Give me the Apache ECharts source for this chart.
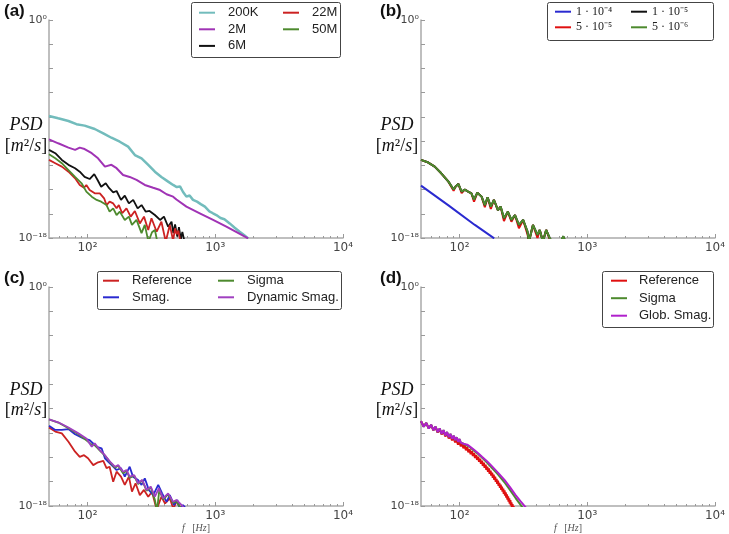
<!DOCTYPE html>
<html><head><meta charset="utf-8">
<script src="https://cdn.jsdelivr.net/npm/echarts@6/dist/echarts.min.js"></script>
<style>html,body{margin:0;padding:0;background:#fff}#c{width:729px;height:534px}</style>
</head><body><div id="c"></div><script>
// ---------- Panel (a) : mesh resolution ----------
const a_200K = [[50,1.2e-8],[59,7.6e-9],[71,4.6e-9],[82,2.5e-9],[95,1.9e-9],[114,1.0e-9],[133,4.4e-10],[154,1.9e-10],[179,8.9e-11],[208,3.5e-11],[235,7.1e-12],[265,3.8e-12],[299,1.1e-12],[337,3.0e-13],[379,1.1e-13],[428,4.5e-14],[468,2.4e-14],[500,1.6e-14],[530,1.8e-14],[560,6.3e-15],[595,2.6e-15],[630,3.2e-15],[670,1.4e-15],[720,1.0e-15],[770,6.3e-16],[830,3.9e-16],[900,1.6e-16],[960,1.1e-16],[1020,7.9e-17],[1100,4.5e-17],[1180,3.5e-17],[1298,1.6e-17],[1420,7.1e-18],[1553,3.3e-18],[1680,1.8e-18],[1810,9.3e-19]];
const a_2M = [[50,1.4e-10],[59,6.6e-11],[71,2.9e-11],[80,1.9e-11],[87,2.9e-11],[95,2.2e-11],[108,1.0e-11],[121,3.8e-12],[137,7.8e-13],[154,1.1e-12],[169,5.8e-13],[190,1.6e-13],[214,1.1e-13],[242,6.2e-14],[281,2.4e-14],[327,1.4e-14],[370,9.1e-15],[416,4.1e-15],[468,2.6e-15],[497,1.5e-15],[595,3.9e-16],[757,1.1e-16],[962,3.1e-17],[1222,8.7e-18],[1810,9.3e-19]];
const a_6M = [[50,1.9e-11],[56,1.0e-11],[63,2.8e-12],[71,1.1e-12],[80,5.8e-13],[87,3.0e-13],[95,1.1e-13],[104,7.4e-14],[113,1.9e-13],[120,6.2e-14],[128,1.7e-14],[139,3.3e-14],[148,1.3e-14],[159,5.9e-15],[169,7.6e-15],[183,1.4e-15],[196,3.1e-15],[211,7.2e-16],[228,1.4e-15],[247,2.8e-16],[265,5.2e-16],[286,1.5e-16],[306,1.7e-16],[337,7.9e-17],[370,3.1e-17],[397,5.8e-17],[428,8.5e-18],[455,2.2e-17],[470,2.5e-18],[485,1.3e-17],[505,1.3e-18],[520,7.9e-18],[538,8e-19],[553,3.2e-18],[575,5e-19]];
const a_22M = [[50,2.8e-12],[56,1.5e-12],[63,7.8e-13],[71,3.0e-13],[80,8.5e-14],[87,2.4e-14],[94,1.4e-14],[98,2.4e-14],[104,9.1e-15],[114,4.9e-15],[125,4.9e-15],[135,1.9e-15],[141,5.2e-16],[149,1.0e-15],[159,7.2e-16],[169,2.8e-16],[176,5.2e-16],[187,1.1e-16],[202,2.8e-16],[218,5.8e-17],[235,1.7e-16],[257,1.6e-17],[277,5.8e-17],[299,4.6e-18],[317,4.3e-17],[348,3.3e-18],[379,2.2e-17],[410,5e-19],[441,1.2e-17],[468,6e-19],[485,6.3e-18],[500,2.0e-18],[515,4.0e-18],[535,4e-19]];
const a_50M = [[50,8.1e-12],[56,3.8e-12],[63,1.5e-12],[71,4.1e-13],[80,1.1e-13],[90,3.3e-14],[98,6.8e-15],[108,2.6e-15],[118,1.4e-15],[128,1.0e-15],[141,5.2e-16],[149,1.5e-16],[159,2.8e-16],[169,7.9e-17],[179,1.5e-16],[196,3.1e-17],[211,5.8e-17],[223,1.2e-17],[242,3.1e-17],[265,2.5e-18],[281,1.2e-17],[300,5e-19],[320,3.0e-18],[337,4.6e-18],[352,5e-19]];

// ---------- Panel (b) : Smagorinsky constant ----------
const b_1e4 = [[50,2.1e-14],[82,4.9e-16],[132,1.2e-17],[187,9.3e-19]];
const b_5e5 = [[50,2.8e-12],[57,1.7e-12],[64,7.8e-13],[72,2.2e-13],[82,4.5e-14],[90,8.0e-15],[93,1.7e-14],[98,2.9e-14],[104,5.0e-15],[110,1.0e-14],[117,6.8e-15],[124,4.9e-15],[130,1.0e-15],[138,5.5e-15],[149,2.6e-15],[158,3.5e-16],[166,2.3e-15],[176,2.5e-16],[186,1.4e-15],[200,2.0e-16],[210,3.9e-16],[223,2.5e-17],[239,1.5e-16],[255,2.2e-17],[272,7.9e-17],[292,6.3e-18],[315,3.1e-17],[341,2.0e-18],[350,5e-19],[376,1.2e-17],[408,1.0e-18],[425,4.6e-18],[450,5e-19],[477,4.6e-18],[508,8e-19],[530,5e-19]];
const b_1e5 = [[50,2.8e-12],[57,1.7e-12],[64,7.8e-13],[72,2.2e-13],[82,4.5e-14],[90,1.0e-14],[93,1.7e-14],[98,2.9e-14],[104,6.8e-15],[110,1.0e-14],[117,6.8e-15],[124,4.9e-15],[130,1.5e-15],[138,5.5e-15],[149,2.6e-15],[158,5.2e-16],[166,2.3e-15],[176,3.9e-16],[186,1.4e-15],[200,2.0e-16],[210,3.9e-16],[223,4.3e-17],[239,1.5e-16],[255,3.1e-17],[272,7.9e-17],[292,1.2e-17],[315,3.1e-17],[341,3.3e-18],[350,5e-19],[376,1.2e-17],[408,1.8e-18],[425,4.6e-18],[450,5e-19],[477,4.6e-18],[508,1.0e-18],[530,5e-19],[620,5e-19],[650,1.4e-18],[680,4e-19]];
const b_5e6 = [[50,2.8e-12],[57,1.7e-12],[64,7.8e-13],[72,2.2e-13],[82,4.5e-14],[90,1.0e-14],[93,1.7e-14],[98,2.9e-14],[104,6.8e-15],[110,1.0e-14],[117,6.8e-15],[124,4.9e-15],[130,1.5e-15],[138,5.5e-15],[149,2.6e-15],[158,5.2e-16],[166,2.3e-15],[176,3.9e-16],[186,1.4e-15],[200,2.0e-16],[210,3.9e-16],[223,4.3e-17],[239,1.5e-16],[255,3.1e-17],[272,7.9e-17],[292,1.2e-17],[315,3.1e-17],[341,3.3e-18],[350,5e-19],[376,1.2e-17],[408,1.8e-18],[425,4.6e-18],[450,5e-19],[477,4.6e-18],[508,1.0e-18],[530,5e-19],[620,5e-19],[650,1.4e-18],[680,4e-19]];

// ---------- Panel (c) : SGS models ----------
const c_reference = [[50,2.8e-12],[56,1.3e-12],[63,9.3e-13],[71,1.9e-13],[80,2.9e-14],[87,1.1e-14],[94,1.5e-14],[101,8.3e-15],[111,2.3e-15],[121,3.9e-15],[133,5.0e-15],[141,1.3e-15],[149,1.7e-15],[159,1.0e-16],[169,6.6e-16],[183,2.6e-16],[196,5.4e-17],[211,2.6e-16],[223,1.5e-17],[238,7.4e-17],[257,7.9e-18],[277,2.1e-17],[299,5.8e-18],[320,1.5e-17],[348,5e-19],[379,5.8e-18],[405,1.6e-18],[441,4.3e-18],[470,6e-19],[500,2.5e-18],[545,5e-19]];
const c_smag = [[50,4.0e-12],[56,1.8e-12],[63,1.8e-12],[71,2.1e-12],[80,7.8e-13],[93,3.6e-13],[104,2.6e-13],[118,7.4e-14],[129,5.5e-14],[137,8.3e-15],[145,4.4e-15],[159,1.7e-15],[169,9.1e-16],[183,1.3e-15],[196,2.6e-16],[214,1.7e-15],[227,2.6e-16],[249,1.4e-16],[265,5.4e-17],[281,1.9e-16],[302,2.1e-17],[327,7.9e-18],[358,5.4e-17],[384,1.1e-17],[416,2.2e-18],[441,7.9e-18],[476,1.2e-18],[505,3.1e-18],[530,5e-19],[560,1.2e-18],[600,5e-19]];
const c_sigma = [[50,1.3e-11],[59,7.2e-12],[71,2.5e-12],[85,7.9e-13],[98,2.5e-13],[108,1.1e-13],[114,1.0e-13],[125,3.5e-14],[137,1.4e-14],[150,4.0e-15],[164,1.4e-15],[174,2.0e-15],[190,5.0e-16],[202,7.9e-16],[214,2.0e-16],[232,3.2e-16],[249,6.3e-17],[268,1.3e-16],[290,1.8e-17],[313,3.5e-17],[337,3.2e-18],[350,4e-19],[365,2.0e-17],[391,3.5e-18],[428,8.9e-18],[468,1.8e-18],[497,2.5e-18],[540,6e-19]];
const c_dynsmag = [[50,1.3e-11],[59,7.6e-12],[71,2.8e-12],[85,9.3e-13],[98,3.6e-13],[108,7.4e-14],[114,1.4e-13],[125,4.0e-14],[137,1.5e-14],[150,4.4e-15],[164,1.7e-15],[174,2.3e-15],[190,6.6e-16],[202,9.1e-16],[214,2.6e-16],[232,3.5e-16],[249,7.4e-17],[268,1.4e-16],[290,2.1e-17],[313,3.9e-17],[337,5.8e-18],[362,2.8e-17],[391,4.3e-18],[428,1.1e-17],[468,2.2e-18],[497,3.1e-18],[547,1.2e-18],[580,5e-19]];

// ---------- Panel (d) : global models ----------
const d_reference = [[50,9.3e-12],[52.5,3.5e-12],[55,6.3e-12],[57.5,2.4e-12],[60,4.4e-12],[62.5,1.7e-12],[65,3.0e-12],[67.5,1.1e-12],[70,2.0e-12],[72.5,7.8e-13],[75,1.4e-12],[77.5,5.2e-13],[80,9.5e-13],[82.5,3.6e-13],[85,6.5e-13],[87.5,2.5e-13],[90,4.5e-13],[92.5,1.7e-13],[95,3.0e-13],[97.5,1.1e-13],[100,2.1e-13],[102.5,7.9e-14],[105,1.4e-13],[107.5,5.5e-14],[110,1.0e-13],[112.5,3.8e-14],[115,6.9e-14],[117.5,2.6e-14],[120,4.7e-14],[122.5,1.8e-14],[125,3.3e-14],[127.5,1.3e-14],[130,2.3e-14],[132.5,8.9e-15],[135,1.6e-14],[137.5,6.2e-15],[140,1.1e-14],[142.5,4.3e-15],[145,7.8e-15],[147.5,3.0e-15],[150,5.2e-15],[152.5,2.0e-15],[155,3.6e-15],[157.5,1.4e-15],[160,2.5e-15],[162.5,9.3e-16],[165,1.7e-15],[167.5,6.5e-16],[170,1.2e-15],[172.5,4.5e-16],[175,8.1e-16],[177.5,3.1e-16],[180,5.5e-16],[182.5,2.1e-16],[185,3.7e-16],[187.5,1.4e-16],[190,2.6e-16],[192.5,9.8e-17],[195,1.7e-16],[197.5,6.6e-17],[200,1.2e-16],[202.5,4.5e-17],[205,8.1e-17],[207.5,3.1e-17],[210,5.6e-17],[212.5,2.1e-17],[215,3.9e-17],[217.5,1.5e-17],[220,2.7e-17],[222.5,1.0e-17],[225,1.9e-17],[227.5,7.1e-18],[230,1.3e-17],[232.5,4.9e-18],[235,8.9e-18],[237.5,3.4e-18],[240,6.2e-18],[242.5,2.3e-18],[245,4.3e-18],[247.5,1.6e-18],[250,3.0e-18],[252.5,1.1e-18],[255,2.0e-18],[257.5,7.8e-19],[260,1.4e-18],[262.5,5.4e-19],[265,9.8e-19],[267.5,3.7e-19]];
const d_sigma = [[50,9.5e-12],[52.5,3.3e-12],[55,6.8e-12],[57.5,2.3e-12],[60,4.8e-12],[62.5,1.7e-12],[65,3.4e-12],[67.5,1.2e-12],[70,2.4e-12],[72.5,8.5e-13],[75,1.7e-12],[77.5,6.3e-13],[80,1.2e-12],[82.5,4.6e-13],[85,8.5e-13],[87.5,3.4e-13],[90,6.0e-13],[92.5,2.6e-13],[95,4.4e-13],[97.5,1.9e-13],[100,3.2e-13],[102.5,1.6e-13],[105,2.3e-13],[107.5,1.3e-13],[110,1.7e-13],[120,7.1e-14],[130,3.5e-14],[140,1.9e-14],[150,9.5e-15],[165,3.5e-15],[180,1.3e-15],[200,4.0e-16],[225,8.9e-17],[250,1.9e-17],[275,4.5e-18],[300,1.3e-18],[320,5e-19]];
const d_globsmag = [[50,9.5e-12],[52.5,3.3e-12],[55,6.8e-12],[57.5,2.3e-12],[60,4.8e-12],[62.5,1.7e-12],[65,3.4e-12],[67.5,1.2e-12],[70,2.4e-12],[72.5,8.5e-13],[75,1.7e-12],[77.5,6.3e-13],[80,1.2e-12],[82.5,4.6e-13],[85,8.5e-13],[87.5,3.4e-13],[90,6.0e-13],[92.5,2.6e-13],[95,4.4e-13],[97.5,1.9e-13],[100,3.2e-13],[102.5,1.6e-13],[105,2.3e-13],[107.5,1.3e-13],[110,1.7e-13],[115,1.1e-13],[120,7.9e-14],[130,4.2e-14],[140,2.2e-14],[150,1.1e-14],[165,4.5e-15],[180,1.8e-15],[200,5.6e-16],[225,1.4e-16],[250,3.2e-17],[275,7.9e-18],[300,2.5e-18],[335,6.3e-19]];

// ---------- Axis tick definitions ----------
const xTickValues = [100, 1000, 10000];
const xMinorTickValues = [60,70,80,90,200,300,400,500,600,700,800,900,2000,3000,4000,5000,6000,7000,8000,9000];
const yLabelExponents = [-18, 0];

const SUP = {'0':'⁰','1':'¹','2':'²','3':'³','4':'⁴','5':'⁵','6':'⁶','7':'⁷','8':'⁸','9':'⁹','-':'⁻'};
function pow10Label(v){
  const e = Math.round(Math.log10(v));
  return '10' + String(e).split('').map(c => SUP[c]).join('');
}
function yFmt(v){
  const e = Math.log10(v);
  for (const t of yLabelExponents) if (Math.abs(e - t) < 0.01) return pow10Label(v);
  return '';
}

const grids = [
  {left:49, top:20, width:294, height:218},
  {left:421, top:20, width:294, height:218},
  {left:49, top:287, width:294, height:219},
  {left:421, top:287, width:294, height:219}
];

const AX = '#aaaaaa';
const xAxes = [], yAxes = [];
for (let i = 0; i < 4; i++) {
  const named = i >= 2;
  xAxes.push({
    type:'log', logBase:10, gridIndex:i, min:50, max:10000, position:'bottom',
    axisLine:{show:true, onZero:false, lineStyle:{color:AX, width:1.5}},
    axisTick:{show:true, inside:true, length:4, customValues:xTickValues, lineStyle:{color:'#999'}},
    axisLabel:{customValues:xTickValues, formatter:v => pow10Label(v), color:'#444', fontSize:12, fontFamily:'DejaVu Sans', margin:4},
    splitLine:{show:false},
    name: named ? '{i|f}{r|   [}{i|Hz}{r|]}' : '',
    nameLocation:'middle', nameGap:16,
    nameTextStyle:{rich:{
      i:{fontFamily:'Liberation Serif', fontStyle:'italic', fontSize:10, color:'#555'},
      r:{fontFamily:'Liberation Serif', fontSize:10, color:'#555'}}}
  });
  yAxes.push({
    type:'log', logBase:10, gridIndex:i, min:1e-18, max:1, interval:2,
    axisLine:{show:true, onZero:false, lineStyle:{color:AX, width:1.5}},
    axisTick:{show:true, inside:true, length:4, lineStyle:{color:'#999'}},
    axisLabel:{formatter:yFmt, color:'#444', fontSize:11, fontFamily:'DejaVu Sans', margin:2, showMinLabel:true, showMaxLabel:true},
    splitLine:{show:false}
  });
}
for (let i = 0; i < 4; i++) {
  xAxes.push({
    type:'log', logBase:10, gridIndex:i, min:50, max:10000, position:'bottom',
    axisLine:{show:false}, axisLabel:{show:false}, splitLine:{show:false},
    axisTick:{show:true, inside:true, length:2, customValues:xMinorTickValues, lineStyle:{color:'#999'}}
  });
}

function line(name, data, panel, color, width){
  return {type:'line', name, data, xAxisIndex:panel, yAxisIndex:panel, showSymbol:false, symbol:'none',
    color, lineStyle:{color, width}, clip:true, z:2, silent:true};
}
const C_CYAN = '#72bcbc', C_PURPLE = '#a033b5', C_BLACK = '#111111', C_RED = '#cc2222', C_GREEN = '#4d8a2e';
const C_BLUE = '#2a2ad0', C_RED2 = '#e01010', C_MAG = '#b020cc';

const series = [
  line('200K', a_200K, 0, C_CYAN, 2.5),
  line('2M', a_2M, 0, C_PURPLE, 2),
  line('6M', a_6M, 0, C_BLACK, 1.8),
  line('22M', a_22M, 0, C_RED, 1.8),
  line('50M', a_50M, 0, C_GREEN, 1.8),
  line('1 · 10⁻⁴', b_1e4, 1, C_BLUE, 2),
  line('5 · 10⁻⁵', b_5e5, 1, C_RED2, 2),
  line('1 · 10⁻⁵', b_1e5, 1, C_BLACK, 2),
  line('5 · 10⁻⁶', b_5e6, 1, C_GREEN, 2),
  line('Reference', c_reference, 2, C_RED, 1.8),
  line('Smag.', c_smag, 2, C_BLUE, 1.8),
  line('Sigma', c_sigma, 2, C_GREEN, 1.8),
  line('Dynamic Smag.', c_dynsmag, 2, '#a040c0', 1.8),
  line('Reference', d_reference, 3, C_RED2, 2.2),
  line('Sigma', d_sigma, 3, C_GREEN, 2),
  line('Glob. Smag.', d_globsmag, 3, C_MAG, 2)
];

const sansText = {fontFamily:'Liberation Sans', fontSize:13, color:'#222', lineHeight:16, padding:[0,0,0,8]};
function leg(items, left, top, text, gap){
  return {data:items, left, top, orient:'vertical', icon:'rect', itemWidth:16, itemHeight:2,
    itemGap:gap, padding:0, selectedMode:false, textStyle:text, inactiveColor:'#ccc'};
}
const serifText = {fontFamily:'Liberation Serif', fontSize:12, color:'#222', lineHeight:15, padding:[0,0,0,0]};
const legends = [
  leg(['200K','2M','6M'], 199, 4.7, sansText, 0.6),
  leg(['22M','50M'], 283, 4.7, sansText, 0.6),
  leg(['1 · 10⁻⁴','5 · 10⁻⁵'], 555, 4.2, serifText, 0.6),
  leg(['1 · 10⁻⁵','5 · 10⁻⁶'], 631, 4.2, serifText, 0.6),
  leg([{name:'Reference', itemStyle:{color:C_RED}},{name:'Smag.'}], 103, 272.7, sansText, 0.6),
  leg([{name:'Sigma'},{name:'Dynamic Smag.'}], 218, 272.7, sansText, 0.6),
  leg([{name:'Reference', itemStyle:{color:C_RED2}},{name:'Sigma'},{name:'Glob. Smag.'}], 611, 272.7,
      Object.assign({}, sansText, {padding:[0,0,0,7]}), 1.5)
];

const graphics = [];
// legend frames
[[191,2,149,55],[547,2,166,38],[97,271,244,38],[602,271,111,56]].forEach(r => {
  graphics.push({type:'rect', shape:{x:r[0]+0.5, y:r[1]+0.5, width:r[2], height:r[3], r:2},
    style:{fill:'#fff', stroke:'#444', lineWidth:1}, z:-1});
});
// panel letters and PSD labels
const letters = [['(a)',4,3],['(b)',380,3],['(c)',4,270],['(d)',380,270]];
letters.forEach(l => graphics.push({type:'text', x:l[1], y:l[2],
  style:{text:l[0], font:'bold 17px "Liberation Sans"', fill:'#111', textVerticalAlign:'top'}}));
const psdPos = [[26,125,146],[397,125,146],[26,390,410],[397,390,410]];
psdPos.forEach(p => {
  graphics.push({type:'text', x:p[0], y:p[1], style:{text:'PSD', font:'italic 18px "Liberation Serif"', fill:'#111', textAlign:'center', textVerticalAlign:'middle'}});
  graphics.push({type:'text', x:p[0], y:p[2], style:{text:'{r|[}{i|m}{r|²/}{i|s}{r|]}', textAlign:'center', textVerticalAlign:'middle',
    rich:{r:{font:'18px "Liberation Serif"', fill:'#111'}, i:{font:'italic 18px "Liberation Serif"', fill:'#111'}}}});
});

const chart = echarts.init(document.getElementById('c'), null, {renderer:'canvas'});
chart.setOption({
  animation:false,
  backgroundColor:'#ffffff',
  grid:grids,
  xAxis:xAxes,
  yAxis:yAxes,
  legend:legends,
  series,
  graphic:graphics
});
</script></body></html>
